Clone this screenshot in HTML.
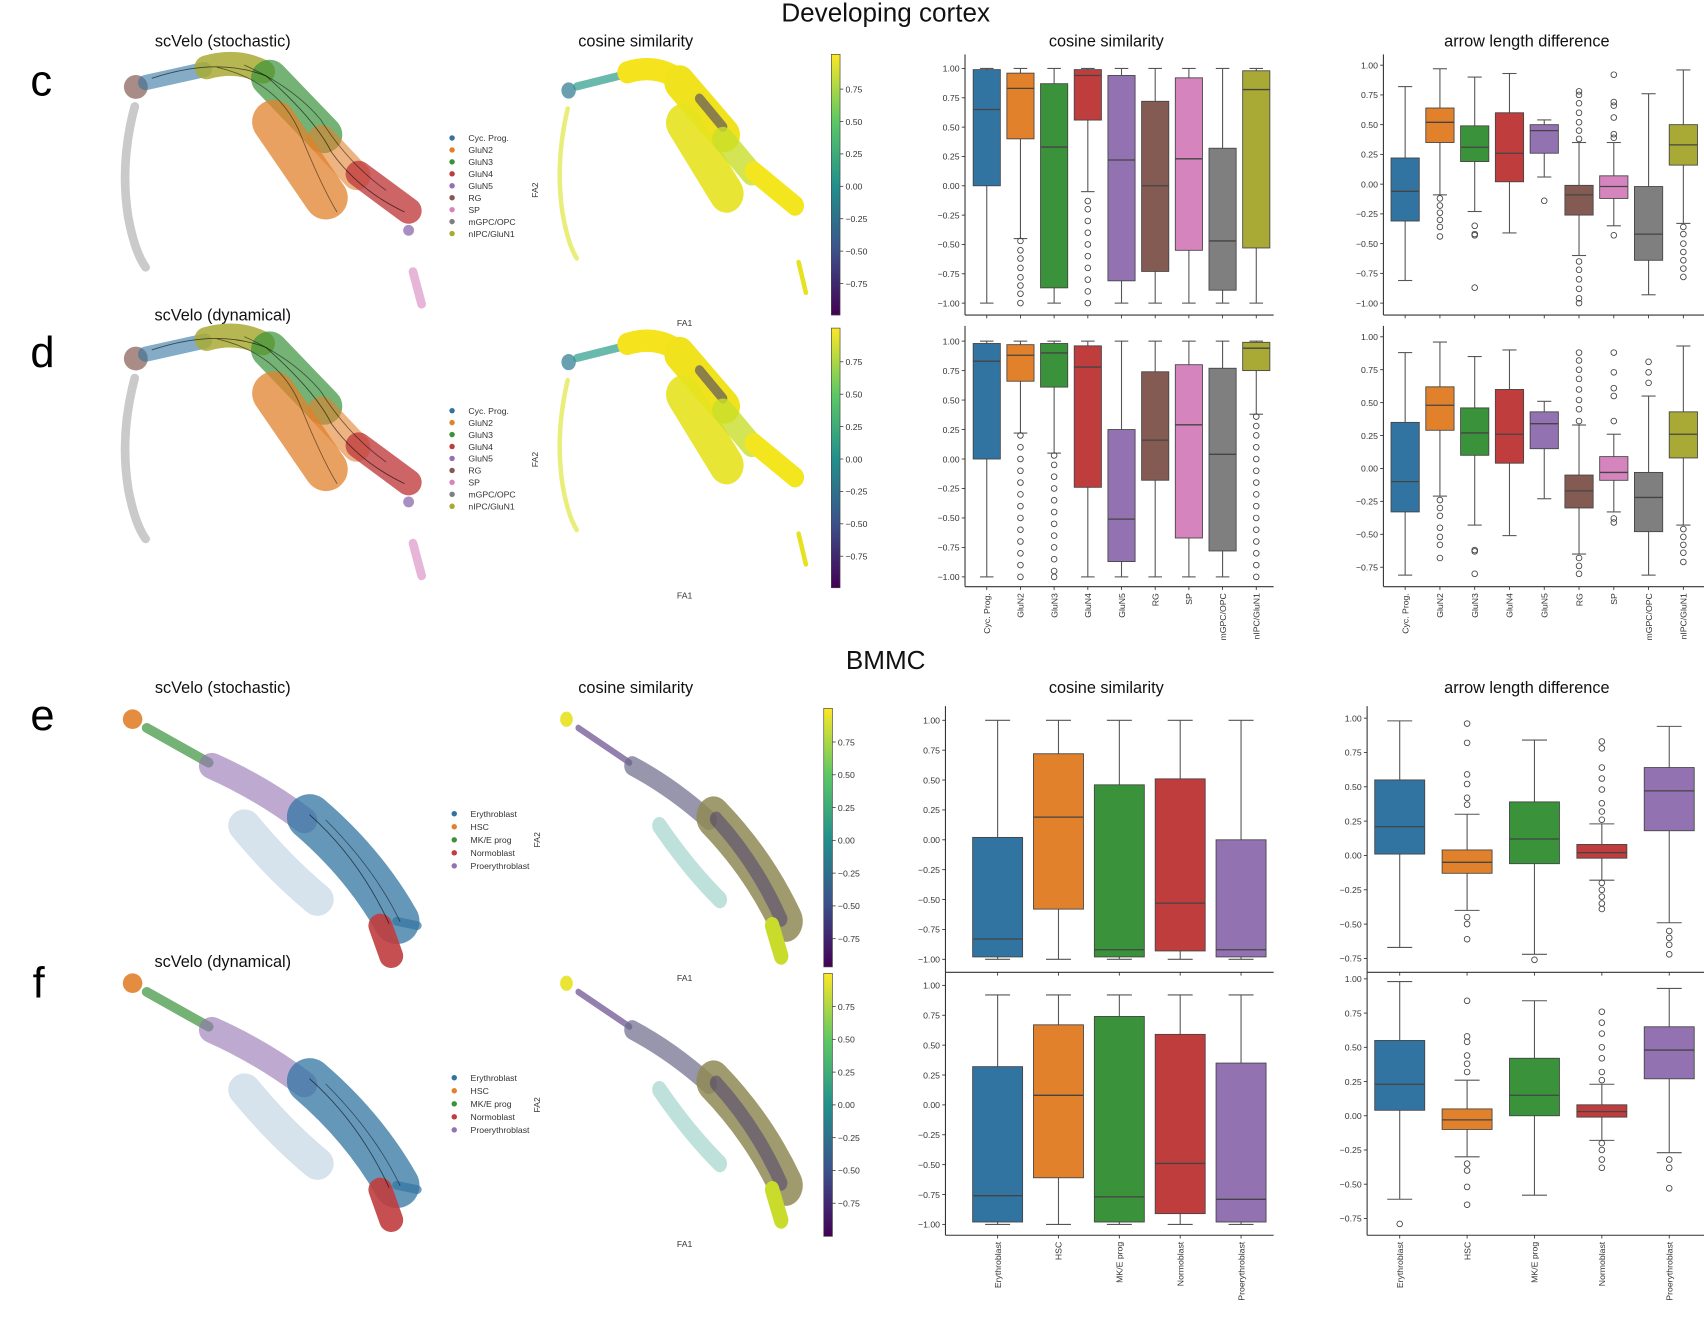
<!DOCTYPE html>
<html><head><meta charset="utf-8"><title>Velocity comparison</title>
<style>
html,body{margin:0;padding:0;background:#fff;}
svg{display:block;font-family:"Liberation Sans",sans-serif;}
.tk{font-size:8px;fill:#333;}
.ttl{font-size:15px;fill:#111;}
.big{font-size:24px;fill:#111;}
.let{font-size:40px;fill:#000;}
.leg{font-size:8px;fill:#333;}
</style></head><body>
<svg id="fig" width="1704" height="1320" viewBox="0 0 1568 1215" preserveAspectRatio="none" xmlns="http://www.w3.org/2000/svg">
<defs>
<linearGradient id="vir" x1="0" y1="1" x2="0" y2="0">
<stop offset="0" stop-color="#440154"/><stop offset="0.25" stop-color="#3b528b"/><stop offset="0.5" stop-color="#21918c"/><stop offset="0.75" stop-color="#5ec962"/><stop offset="1" stop-color="#fde725"/>
</linearGradient>
<g id="cortexEmb" stroke-linecap="round" stroke-linejoin="round">
<path d="M124,98 Q110,150 118,200 Q124,232 134,246" stroke="#8a8a8a" stroke-width="8" fill="none" opacity="0.45"/>
<circle cx="125" cy="80" r="11" fill="#845b53" opacity="0.7"/>
<path d="M134,76 L188,64" stroke="#3274a1" stroke-width="14" fill="none" opacity="0.6"/>
<path d="M190,62 Q218,54 242,66" stroke="#a9aa35" stroke-width="22" fill="none" opacity="0.85"/>
<path d="M248,72 L298,124" stroke="#3a923a" stroke-width="34" fill="none" opacity="0.7"/>
<path d="M252,112 L300,182" stroke="#e1812c" stroke-width="40" fill="none" opacity="0.75"/>
<path d="M296,128 L328,162" stroke="#e1812c" stroke-width="26" fill="none" opacity="0.6"/>
<path d="M330,160 L376,194" stroke="#c03d3e" stroke-width="24" fill="none" opacity="0.8"/>
<circle cx="376" cy="212" r="5" fill="#9372b2" opacity="0.8"/>
<path d="M380,250 L388,280" stroke="#d684bd" stroke-width="8" fill="none" opacity="0.6"/>
<path d="M140,72 Q200,52 245,70 Q290,110 305,140 Q330,175 372,195" stroke="#000" stroke-width="0.8" fill="none" opacity="0.6"/>
<path d="M200,62 Q255,75 275,120 Q295,170 310,195" stroke="#000" stroke-width="0.8" fill="none" opacity="0.5"/>
<path d="M225,60 Q270,80 295,110 Q320,150 355,175" stroke="#000" stroke-width="0.8" fill="none" opacity="0.5"/>
</g>
<g id="cortexCos" stroke-linecap="round" stroke-linejoin="round">
<path d="M124,98 Q110,150 118,200 Q124,232 134,246" stroke="#d9e21f" stroke-width="5" fill="none" opacity="0.6"/>
<circle cx="125" cy="80" r="8" fill="#2a788e" opacity="0.7"/>
<path d="M134,76 L188,64" stroke="#2a9b8a" stroke-width="8" fill="none" opacity="0.7"/>
<path d="M190,62 Q218,54 242,66" stroke="#f5e31e" stroke-width="22" fill="none"/>
<path d="M248,72 L298,124" stroke="#f0e31e" stroke-width="34" fill="none"/>
<path d="M270,88 L296,116" stroke="#3b2f70" stroke-width="10" fill="none" opacity="0.55"/>
<path d="M252,112 L300,182" stroke="#e7e21f" stroke-width="38" fill="none" opacity="0.9"/>
<path d="M296,128 L328,162" stroke="#c8de2a" stroke-width="24" fill="none" opacity="0.8"/>
<path d="M330,160 L376,194" stroke="#f3e51e" stroke-width="20" fill="none"/>
<path d="M380,250 L388,280" stroke="#e6e21f" stroke-width="5" fill="none"/>
</g>
<g id="bmmcEmb" stroke-linecap="round" stroke-linejoin="round">
<circle cx="122" cy="662" r="9" fill="#e1812c" opacity="0.9"/>
<path d="M135,670 L192,702" stroke="#3a923a" stroke-width="9" fill="none" opacity="0.7"/>
<path d="M195,705 Q240,725 280,755" stroke="#9372b2" stroke-width="24" fill="none" opacity="0.6"/>
<path d="M225,760 Q258,800 292,828" stroke="#3274a1" stroke-width="30" fill="none" opacity="0.2"/>
<path d="M285,752 Q335,795 365,848" stroke="#3274a1" stroke-width="42" fill="none" opacity="0.75"/>
<path d="M365,848 L384,852" stroke="#3274a1" stroke-width="8" fill="none" opacity="0.7"/>
<path d="M350,852 L360,880" stroke="#c03d3e" stroke-width="22" fill="none" opacity="0.9"/>
<path d="M285,750 Q330,790 358,850" stroke="#000" stroke-width="0.8" fill="none" opacity="0.6"/>
<path d="M300,755 Q345,800 368,848" stroke="#000" stroke-width="0.8" fill="none" opacity="0.5"/>
</g>
<g id="bmmcCos" stroke-linecap="round" stroke-linejoin="round">
<circle cx="122" cy="662" r="7" fill="#e6e21f" opacity="0.9"/>
<path d="M135,670 L192,702" stroke="#4b2c7a" stroke-width="6" fill="none" opacity="0.6"/>
<path d="M195,705 Q240,725 280,755" stroke="#6b6a8a" stroke-width="18" fill="none" opacity="0.7"/>
<path d="M225,760 Q258,800 292,828" stroke="#2a9b8a" stroke-width="16" fill="none" opacity="0.3"/>
<path d="M285,752 Q335,795 365,848" stroke="#8f8a55" stroke-width="38" fill="none" opacity="0.85"/>
<path d="M288,754 Q332,794 360,846" stroke="#3b2f70" stroke-width="14" fill="none" opacity="0.45"/>
<path d="M350,852 L360,880" stroke="#c9dc2c" stroke-width="16" fill="none"/>
</g>
</defs>

<text class="big" x="815" y="20" text-anchor="middle">Developing cortex</text>
<text class="big" x="815" y="616" text-anchor="middle">BMMC</text>
<text class="let" x="28" y="88">c</text>
<text class="let" x="28" y="338">d</text>
<text class="let" x="28" y="672">e</text>
<text class="let" x="30" y="918">f</text>

<text class="ttl" x="205" y="43" text-anchor="middle">scVelo (stochastic)</text>
<text class="ttl" x="585" y="43" text-anchor="middle">cosine similarity</text>
<text class="ttl" x="1018" y="43" text-anchor="middle">cosine similarity</text>
<text class="ttl" x="1405" y="43" text-anchor="middle">arrow length difference</text>
<text class="ttl" x="205" y="295" text-anchor="middle">scVelo (dynamical)</text>
<text class="ttl" x="205" y="638" text-anchor="middle">scVelo (stochastic)</text>
<text class="ttl" x="585" y="638" text-anchor="middle">cosine similarity</text>
<text class="ttl" x="1018" y="638" text-anchor="middle">cosine similarity</text>
<text class="ttl" x="1405" y="638" text-anchor="middle">arrow length difference</text>
<text class="ttl" x="205" y="890" text-anchor="middle">scVelo (dynamical)</text>

<use href="#cortexEmb"/>
<use href="#cortexEmb" transform="translate(0,250)"/>
<use href="#cortexCos" transform="translate(419.5,8.9) scale(0.83,0.93)"/>
<use href="#cortexCos" transform="translate(419.5,258.9) scale(0.83,0.93)"/>
<use href="#bmmcEmb"/>
<use href="#bmmcEmb" transform="translate(0,243)"/>
<use href="#bmmcCos" transform="translate(420,0) scale(0.83,1)"/>
<use href="#bmmcCos" transform="translate(420,243) scale(0.83,1)"/>

<g id="legends"></g>
<g id="cbars"></g>
<g id="boxes"></g>
</svg>
<script>
const NS='http://www.w3.org/2000/svg';
const svg=document.getElementById('fig');
function mk(tag,attrs,parent){const e=document.createElementNS(NS,tag);for(const k in attrs)e.setAttribute(k,attrs[k]);(parent||svg).appendChild(e);return e;}

// ---------- data ----------
const cortexCats=['Cyc. Prog.','GluN2','GluN3','GluN4','GluN5','RG','SP','mGPC/OPC','nIPC/GluN1'];
const bmmcCats=['Erythroblast','HSC','MK/E prog','Normoblast','Proerythroblast'];
const cortexColors=['#3274a1','#e1812c','#3a923a','#c03d3e','#9372b2','#845b53','#d684bd','#7f7f7f','#a9aa35'];
const bmmcColors=['#3274a1','#e1812c','#3a923a','#c03d3e','#9372b2'];

const cCosQ1=[0.00,0.40,-0.87,0.56,-0.81,-0.73,-0.55,-0.89,-0.53];
const cCosMed=[0.65,0.83,0.33,0.94,0.22,0.00,0.23,-0.47,0.82];
const cCosQ3=[0.99,0.96,0.87,0.99,0.94,0.72,0.92,0.32,0.98];
const cCosLo=[-1,-0.45,-1,-0.05,-1,-1,-1,-1,-1];
const cCosHi=[1,1,1,1,1,1,1,1,1];
const cCosOut=[[],[-0.47,-0.55,-0.62,-0.7,-0.78,-0.85,-0.92,-1.0],[],[-0.13,-0.2,-0.3,-0.4,-0.5,-0.6,-0.7,-0.8,-0.9,-1.0],[],[],[],[],[]];

const cArrQ1=[-0.31,0.35,0.19,0.02,0.26,-0.26,-0.12,-0.64,0.16];
const cArrMed=[-0.06,0.52,0.31,0.26,0.45,-0.09,-0.02,-0.42,0.33];
const cArrQ3=[0.22,0.64,0.49,0.60,0.50,-0.01,0.07,-0.02,0.50];
const cArrLo=[-0.81,-0.09,-0.23,-0.41,0.06,-0.60,-0.35,-0.93,-0.33];
const cArrHi=[0.82,0.97,0.90,0.93,0.54,0.35,0.35,0.76,0.96];
const cArrOut=[[],[-0.12,-0.18,-0.24,-0.3,-0.36,-0.44],[-0.35,-0.42,-0.43,-0.87],[],[-0.14],[0.38,0.45,0.52,0.6,0.68,0.75,0.78,-0.65,-0.72,-0.8,-0.88,-0.96,-1.0],[-0.43,0.39,0.42,0.56,0.66,0.69,0.92],[],[-0.36,-0.42,-0.5,-0.57,-0.64,-0.71,-0.78]];

const dCosQ1=[0.00,0.66,0.61,-0.24,-0.87,-0.18,-0.67,-0.78,0.75];
const dCosMed=[0.83,0.88,0.90,0.78,-0.51,0.16,0.29,0.04,0.94];
const dCosQ3=[0.98,0.97,0.98,0.96,0.25,0.74,0.80,0.77,0.99];
const dCosLo=[-1,0.22,0.05,-1,-1,-1,-1,-1,0.38];
const dCosHi=[1,1,1,1,1,1,1,1,1];
const dCosOut=[[],[0.2,0.1,0.0,-0.1,-0.2,-0.3,-0.4,-0.5,-0.6,-0.7,-0.8,-0.9,-1.0],[0.03,-0.05,-0.15,-0.25,-0.35,-0.45,-0.55,-0.65,-0.75,-0.85,-0.95,-1.0],[],[],[],[],[],[0.36,0.28,0.2,0.1,0.0,-0.1,-0.2,-0.3,-0.4,-0.5,-0.6,-0.7,-0.8,-0.9,-1.0]];

const dArrQ1=[-0.33,0.29,0.10,0.04,0.15,-0.30,-0.09,-0.48,0.08];
const dArrMed=[-0.10,0.48,0.27,0.26,0.34,-0.17,-0.03,-0.22,0.26];
const dArrQ3=[0.35,0.62,0.46,0.60,0.43,-0.05,0.09,-0.03,0.43];
const dArrLo=[-0.81,-0.21,-0.43,-0.51,-0.23,-0.65,-0.33,-0.81,-0.43];
const dArrHi=[0.88,0.96,0.85,0.90,0.51,0.33,0.26,0.55,0.93];
const dArrOut=[[],[-0.24,-0.3,-0.36,-0.45,-0.52,-0.58,-0.68],[-0.62,-0.63,-0.80],[],[],[0.36,0.45,0.52,0.6,0.68,0.75,0.82,0.88,-0.68,-0.74,-0.8],[0.36,0.55,0.61,0.73,0.88,-0.38,-0.41],[0.65,0.73,0.81],[-0.46,-0.52,-0.58,-0.64,-0.71]];

const eCosQ1=[-0.98,-0.58,-0.98,-0.93,-0.98];
const eCosMed=[-0.83,0.19,-0.92,-0.53,-0.92];
const eCosQ3=[0.02,0.72,0.46,0.51,0.00];
const eCosLo=[-1,-1,-1,-1,-1];
const eCosHi=[1,1,1,1,1];
const eCosOut=[[],[],[],[],[]];

const eArrQ1=[0.01,-0.13,-0.06,-0.02,0.18];
const eArrMed=[0.21,-0.05,0.12,0.02,0.47];
const eArrQ3=[0.55,0.04,0.39,0.08,0.64];
const eArrLo=[-0.67,-0.40,-0.72,-0.18,-0.49];
const eArrHi=[0.98,0.30,0.84,0.23,0.94];
const eArrOut=[[],[0.37,0.42,0.52,0.59,0.82,0.96,-0.45,-0.5,-0.61],[-0.76],[0.26,0.32,0.38,0.48,0.56,0.64,0.78,0.83,-0.2,-0.25,-0.3,-0.35,-0.39],[-0.55,-0.6,-0.65,-0.72]];

const fCosQ1=[-0.98,-0.61,-0.98,-0.91,-0.98];
const fCosMed=[-0.76,0.08,-0.77,-0.49,-0.79];
const fCosQ3=[0.32,0.67,0.74,0.59,0.35];
const fCosLo=[-1,-1,-1,-1,-1];
const fCosHi=[0.92,0.92,0.92,0.92,0.92];
const fCosOut=[[],[],[],[],[]];

const fArrQ1=[0.04,-0.10,0.00,-0.01,0.27];
const fArrMed=[0.23,-0.03,0.15,0.03,0.48];
const fArrQ3=[0.55,0.05,0.42,0.08,0.65];
const fArrLo=[-0.61,-0.30,-0.58,-0.18,-0.27];
const fArrHi=[0.98,0.26,0.84,0.23,0.93];
const fArrOut=[[-0.79],[0.32,0.38,0.44,0.54,0.58,0.84,-0.35,-0.4,-0.52,-0.65],[],[0.26,0.32,0.42,0.5,0.6,0.68,0.76,-0.2,-0.25,-0.32,-0.38],[-0.32,-0.38,-0.53]];

const ticksFull=[1,0.75,0.5,0.25,0,-0.25,-0.5,-0.75,-1];
const ticksArrShort=[1,0.75,0.5,0.25,0,-0.25,-0.5,-0.75];
const cbarTicks=[0.75,0.5,0.25,0,-0.25,-0.5,-0.75];

// ---------- drawing ----------
const G=document.getElementById('boxes');
function boxPanel(name,ax,cats,colors,q1,med,q3,lo,hi,out,ticks,showLabels){
  const g=mk('g',{},G);
  
  
  const y=v=>ax.zero-v*ax.ppu;
  const x=i=>ax.c0+i*ax.step;
  const l1=mk('line',{x1:ax.left,x2:ax.left,y1:ax.top,y2:ax.bottom,stroke:'#333','stroke-width':1},g);
  
  
  const l2=mk('line',{x1:ax.left,x2:ax.right,y1:ax.bottom,y2:ax.bottom,stroke:'#333','stroke-width':1},g);
  
  
  ticks.forEach(t=>{
    mk('line',{x1:ax.left-3,x2:ax.left,y1:y(t),y2:y(t),stroke:'#333','stroke-width':0.8},g);
    const tx=mk('text',{x:ax.left-5,y:y(t)+3,'text-anchor':'end',class:'tk'},g);
    tx.textContent=(t<0?'\u2212':'')+Math.abs(t).toFixed(2);
    
    
  });
  cats.forEach((c,i)=>{
    const cx=x(i),hw=ax.bw/2;
    mk('line',{x1:cx,x2:cx,y1:y(hi[i]),y2:y(q3[i]),stroke:'#555','stroke-width':1},g);
    mk('line',{x1:cx,x2:cx,y1:y(q1[i]),y2:y(lo[i]),stroke:'#555','stroke-width':1},g);
    mk('line',{x1:cx-hw/2,x2:cx+hw/2,y1:y(hi[i]),y2:y(hi[i]),stroke:'#555','stroke-width':1},g);
    mk('line',{x1:cx-hw/2,x2:cx+hw/2,y1:y(lo[i]),y2:y(lo[i]),stroke:'#555','stroke-width':1},g);
    const r=mk('rect',{x:cx-hw,y:y(q3[i]),width:ax.bw,height:Math.max(1,y(q1[i])-y(q3[i])),fill:colors[i],stroke:'#444','stroke-width':0.8},g);
    
    
    mk('line',{x1:cx-hw,x2:cx+hw,y1:y(med[i]),y2:y(med[i]),stroke:'#444','stroke-width':1.2},g);
    out[i].forEach(v=>{mk('circle',{cx:cx,cy:y(v),r:2.6,fill:'none',stroke:'#444','stroke-width':0.8},g);});
    mk('line',{x1:cx,x2:cx,y1:ax.bottom,y2:ax.bottom+3,stroke:'#333','stroke-width':0.8},g);
    if(showLabels){
      const t=mk('text',{transform:`translate(${cx+3},${ax.bottom+6}) rotate(-90)`,'text-anchor':'end',class:'tk'},g);
      t.textContent=c;
      
      
    }
  });
}
boxPanel('c-cosine-boxplot',{zero:171,ppu:108,left:888,right:1172,top:50,bottom:290,c0:908,step:31,bw:25},cortexCats,cortexColors,cCosQ1,cCosMed,cCosQ3,cCosLo,cCosHi,cCosOut,ticksFull,false);
boxPanel('c-arrow-boxplot',{zero:169.5,ppu:109.5,left:1273,right:1568,top:50,bottom:290,c0:1293,step:32,bw:26},cortexCats,cortexColors,cArrQ1,cArrMed,cArrQ3,cArrLo,cArrHi,cArrOut,ticksFull,false);
boxPanel('d-cosine-boxplot',{zero:422.5,ppu:108.5,left:888,right:1172,top:300,bottom:540,c0:908,step:31,bw:25},cortexCats,cortexColors,dCosQ1,dCosMed,dCosQ3,dCosLo,dCosHi,dCosOut,ticksFull,true);
boxPanel('d-arrow-boxplot',{zero:431.2,ppu:121.2,left:1273,right:1568,top:300,bottom:540,c0:1293,step:32,bw:26},cortexCats,cortexColors,dArrQ1,dArrMed,dArrQ3,dArrLo,dArrHi,dArrOut,ticksArrShort,true);
boxPanel('e-cosine-boxplot',{zero:773,ppu:110,left:870,right:1172,top:650,bottom:895,c0:918,step:56,bw:46},bmmcCats,bmmcColors,eCosQ1,eCosMed,eCosQ3,eCosLo,eCosHi,eCosOut,ticksFull,false);
boxPanel('e-arrow-boxplot',{zero:787.4,ppu:126.4,left:1258,right:1568,top:650,bottom:895,c0:1288,step:62,bw:46},bmmcCats,bmmcColors,eArrQ1,eArrMed,eArrQ3,eArrLo,eArrHi,eArrOut,ticksArrShort,false);
boxPanel('f-cosine-boxplot',{zero:1017,ppu:110,left:870,right:1172,top:895,bottom:1137,c0:918,step:56,bw:46},bmmcCats,bmmcColors,fCosQ1,fCosMed,fCosQ3,fCosLo,fCosHi,fCosOut,ticksFull,true);
boxPanel('f-arrow-boxplot',{zero:1027,ppu:126,left:1258,right:1568,top:895,bottom:1137,c0:1288,step:62,bw:46},bmmcCats,bmmcColors,fArrQ1,fArrMed,fArrQ3,fArrLo,fArrHi,fArrOut,ticksArrShort,true);

// legends
const L=document.getElementById('legends');
function legend(name,cats,colors,x,y0,dy){
  const g=mk('g',{},L);
  
  
  cats.forEach((c,i)=>{
    mk('circle',{cx:x,cy:y0+i*dy,r:2.5,fill:colors[i]},g);
    const t=mk('text',{x:x+15,y:y0+i*dy+3,class:'leg'},g);
    t.textContent=c;
    
    
  });
}
legend('c-legend',cortexCats,cortexColors,416,127,11);
legend('d-legend',cortexCats,cortexColors,416,378,11);
legend('e-legend',bmmcCats,bmmcColors,418,749,12);
legend('f-legend',bmmcCats,bmmcColors,418,992,12);

// colorbars & axis labels
const C=document.getElementById('cbars');
function cbar(name,x,top,bottom,zero,ppu){
  const g=mk('g',{},C);
  
  
  mk('rect',{x:x,y:top,width:8,height:bottom-top,fill:'url(#vir)',stroke:'#444','stroke-width':0.6},g);
  cbarTicks.forEach(t=>{
    const yy=zero-t*ppu;
    mk('line',{x1:x+8,x2:x+11,y1:yy,y2:yy,stroke:'#333','stroke-width':0.7},g);
    const tx=mk('text',{x:x+13,y:yy+3,class:'tk'},g);
    tx.textContent=(t<0?'\u2212':'')+Math.abs(t).toFixed(2);
    
    
  });
}
cbar('c-colorbar',765,50,290,171.5,119.3);
cbar('d-colorbar',765,302,541,422.5,119.3);
cbar('e-colorbar',758,652,890,773.5,120.7);
cbar('f-colorbar',758,896,1138,1017,120.7);
[[630,300,495,175],[630,551,495,423],[630,903,497,773],[630,1148,497,1017]].forEach((p,i)=>{
  const a=mk('text',{x:p[0],y:p[1],'text-anchor':'middle',class:'tk'});
  a.textContent='FA1';
  
  
  const b=mk('text',{transform:`translate(${p[2]},${p[3]}) rotate(-90)`,'text-anchor':'middle',class:'tk'});
  b.textContent='FA2';
  
  
});
</script>
</body></html>
